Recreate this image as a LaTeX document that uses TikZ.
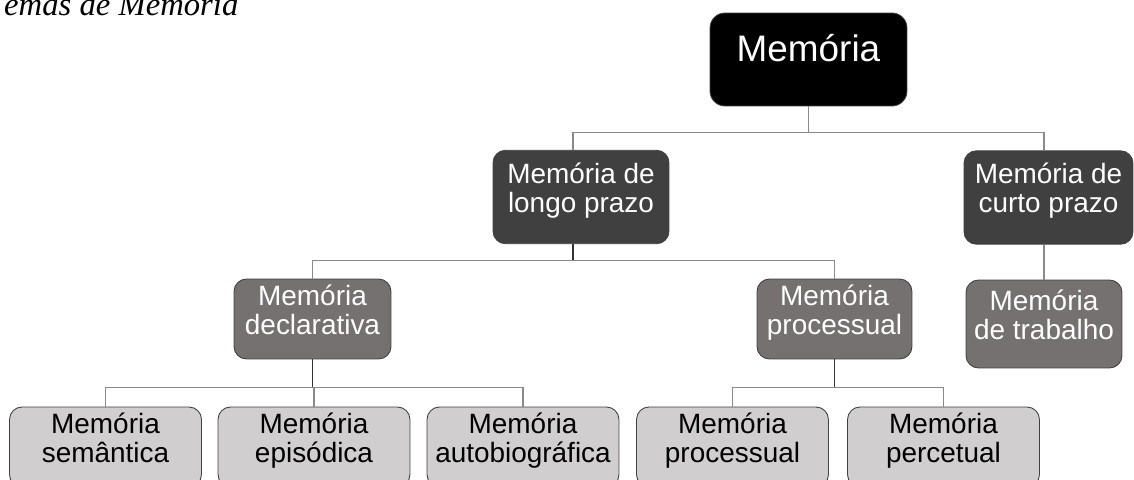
\documentclass[tikz,border=0pt]{standalone}
\usepackage{fontspec}
\setmainfont{Liberation Sans}
\newfontfamily\titlefont{Liberation Serif}
\usetikzlibrary{calc}

\definecolor{escuro}{HTML}{404040}
\definecolor{medio}{HTML}{767171}
\definecolor{claro}{HTML}{D0CECE}
\definecolor{linha}{HTML}{8A8A8A}

\begin{document}
\begin{tikzpicture}[x=0.02cm, y=-0.02cm,
	caixa/.style={draw=black!75, line width=0.5pt, rounded corners=0.25cm, align=center, inner sep=0pt,
		font=\fontsize{15.9}{16.4}\selectfont, text depth=0.38cm},
	raiz/.style={caixa, fill=black, text=white, rounded corners=0.3cm,
		font=\fontsize{21}{25}\selectfont, text depth=0.46cm},
	nivel1/.style={caixa, fill=escuro, text=white, minimum height=1.87cm},
	nivel2/.style={caixa, fill=medio, text=white},
	folha/.style={caixa, fill=claro, text=black, minimum width=3.84cm, minimum height=1.6cm},
	link/.style={draw=linha, line width=0.6pt},
	ligacao/.style={draw=black!80, line width=0.7pt}]
	\useasboundingbox (0,0) rectangle (1134,480);
	\node[anchor=base west, font=\titlefont\itshape\fontsize{18.6}{20}\selectfont] (titulo) at (-2,15) {emas de Memória};
	% raiz e primeiro nivel
	\node[raiz, minimum width=3.94cm, minimum height=1.86cm] (mem) at (808.5,59.5) {Memória};
	\node[nivel1, minimum width=3.52cm] (longo) at (581,197) {Memória de\\longo prazo};
	\node[nivel1, minimum width=3.38cm] (curto) at (1048.5,197.5) {Memória de\\curto prazo};
	% segundo nivel
	\node[nivel2, minimum width=3.14cm, minimum height=1.6cm] (decl) at (312.5,319) {Memória\\declarativa};
	\node[nivel2, minimum width=3.1cm, minimum height=1.6cm] (proc) at (834.5,319) {Memória\\processual};
	\node[nivel2, minimum width=3.12cm, minimum height=1.76cm] (trab) at (1044,324) {Memória\\de trabalho};
	% folhas
	\node[folha] (sem) at (105.5,447) {Memória\\semântica};
	\node[folha] (epi) at (314,447) {Memória\\episódica};
	\node[folha] (auto) at (523,447) {Memória\\autobiográfica};
	\node[folha] (procm) at (732.5,447) {Memória\\processual};
	\node[folha] (perc) at (943.5,447) {Memória\\percetual};

	\draw[link] (mem.south) -- ++(0,26) coordinate (barra1);
	\draw[link] ($(longo.north)+(-8,0)$) |- (barra1) -| ($(curto.north)+(-4.5,0)$);
	\draw[ligacao] ($(longo.south)+(-8,0)$) -- ++(0,16) coordinate (barra2);
	\draw[link] (decl.north) |- (barra2) -| (proc.north);
	\draw[link] ($(curto.south)+(-4.5,0)$) -- (trab.north);

	\draw[ligacao] (decl.south) -- ++(0,28) coordinate (barra3);
	\draw[link] (sem.north) |- (barra3) -| (auto.north);
	\draw[link] (epi.north) -- (epi.north |- barra3);
	\draw[ligacao] (proc.south) -- ++(0,28) coordinate (barra4);
	\draw[link] (procm.north) |- (barra4) -| (perc.north);
\end{tikzpicture}
\end{document}
